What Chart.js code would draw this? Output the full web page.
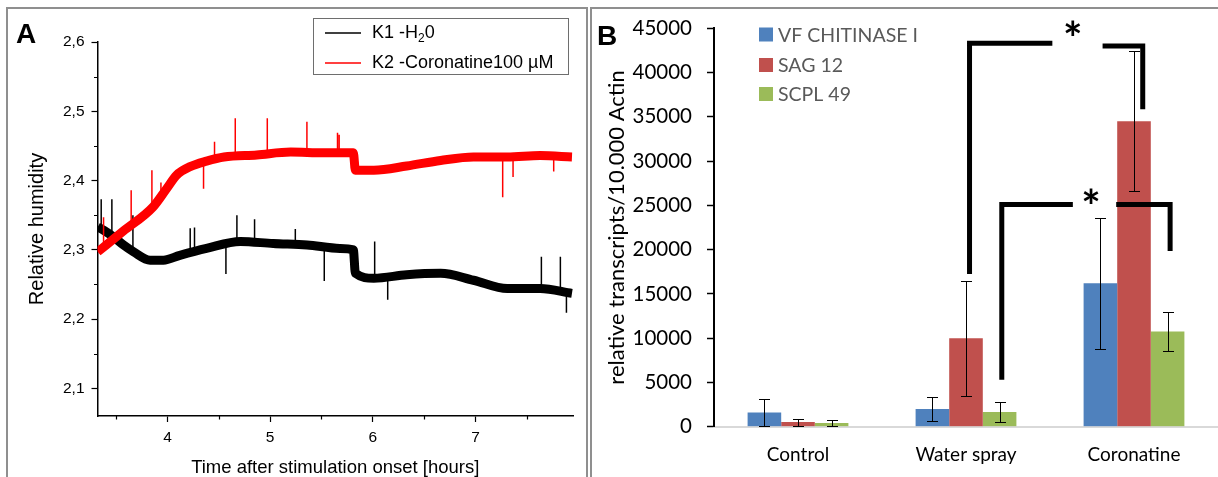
<!DOCTYPE html>
<html><head><meta charset="utf-8">
<script src="https://cdn.jsdelivr.net/npm/chart.js@4.4.1/dist/chart.umd.min.js"></script>
<style>
html,body{margin:0;padding:0;background:#fff;}
#wrap{position:relative;width:1218px;height:477px;overflow:hidden;background:#fff;}
.panel{position:absolute;border:2px solid #8f8f8f;border-bottom:none;box-sizing:border-box;}
#pA{left:6px;top:7px;width:582px;height:480px;}
#pB{left:590px;top:7px;width:640px;height:480px;}
canvas{position:absolute;top:0;}
#cA{left:0;}
#cB{left:590px;}
</style></head>
<body><div id="wrap">
<div class="panel" id="pA"></div><div class="panel" id="pB"></div>
<canvas id="cA" width="590" height="477"></canvas>
<canvas id="cB" width="628" height="477"></canvas>
</div>
<script>
// ---------- Panel A data (Relative humidity vs time) ----------
const k1Time  = [3.32, 3.38, 3.47, 3.57, 3.67, 3.83, 3.96, 4.12, 4.38, 4.71, 5.03, 5.36, 5.68, 5.81, 5.83, 6.01, 6.33, 6.66, 6.98, 7.31, 7.63, 7.94];
const k1Value = [2.333, 2.328, 2.319, 2.307, 2.297, 2.285, 2.285, 2.292, 2.302, 2.312, 2.309, 2.307, 2.302, 2.300, 2.266, 2.259, 2.264, 2.266, 2.256, 2.244, 2.244, 2.237];
const k2Time  = [3.32, 3.57, 3.86, 3.99, 4.09, 4.22, 4.38, 4.55, 4.87, 5.20, 5.52, 5.81, 5.83, 6.01, 6.33, 6.66, 6.98, 7.31, 7.63, 7.94];
const k2Value = [2.297, 2.327, 2.362, 2.388, 2.408, 2.420, 2.428, 2.434, 2.437, 2.441, 2.440, 2.440, 2.415, 2.415, 2.421, 2.429, 2.434, 2.434, 2.436, 2.434];
const k1SpikeTime = [3.354, 3.458, 3.663, 4.221, 4.263, 4.569, 4.676, 4.848, 5.245, 5.527, 6.018, 6.145, 7.642, 7.827, 7.886];
const k1SpikeBase = [2.330, 2.320, 2.300, 2.295, 2.297, 2.310, 2.312, 2.311, 2.308, 2.305, 2.259, 2.261, 2.244, 2.240, 2.238];
const k1SpikePeak = [2.373, 2.373, 2.350, 2.331, 2.332, 2.265, 2.350, 2.344, 2.330, 2.255, 2.312, 2.228, 2.290, 2.290, 2.209];
const k2SpikeTime = [3.377, 3.646, 3.848, 3.936, 4.351, 4.458, 4.660, 4.972, 5.358, 5.656, 5.672, 7.265, 7.366, 7.762];
const k2SpikeBase = [2.300, 2.333, 2.360, 2.380, 2.427, 2.430, 2.435, 2.437, 2.441, 2.440, 2.440, 2.434, 2.434, 2.436];
const k2SpikePeak = [2.347, 2.386, 2.415, 2.397, 2.388, 2.456, 2.490, 2.490, 2.485, 2.469, 2.466, 2.376, 2.405, 2.413];
const aXTicks = [4, 5, 6, 7];
const aXMinor = [3.5, 4.5, 5.5, 6.5, 7.5];
const aYTicks = [2.1, 2.2, 2.3, 2.4, 2.5, 2.6];
const aYMinor = [2.15, 2.25, 2.35, 2.45, 2.55];
const aLegend = ['K1 -H', 'K2 -Coronatine100 µM'];

// ---------- Panel B data (transcripts) ----------
const categories = ['Control', 'Water spray', 'Coronatine'];
const seriesNames = ['VF CHITINASE I', 'SAG 12', 'SCPL 49'];
const chitinase = [1600, 2000, 16200];
const chitinaseErr = [1500, 1350, 7400];
const sag12 = [520, 10000, 34500];
const sag12Err = [400, 6500, 7900];
const scpl49 = [420, 1650, 10750];
const scpl49Err = [380, 1100, 2200];
const bYTicks = [0, 5000, 10000, 15000, 20000, 25000, 30000, 35000, 40000, 45000];
// significance brackets in (category index, value) units
const bracketLines = [
  [[1.021, 17250], [1.021, 43300], [1.514, 43300]],
  [[1.813, 43000], [2.052, 43000], [2.052, 35850]],
  [[1.213, 5300], [1.213, 25100], [1.636, 25100]],
  [[1.894, 25100], [2.215, 25100], [2.215, 19850]]
];
const starPos = [[1.635, 44860], [1.744, 25900]];

// ================= Panel A =================
const fontA = 'Liberation Sans';
function pts(t, v) { return t.map((x, i) => ({x: x, y: v[i]})); }
function spikes(t, b, p) {
  const out = [];
  t.forEach((x, i) => { out.push({x: x, y: b[i]}, {x: x, y: p[i]}, {x: x, y: null}); });
  return out;
}
const pluginA = {
  id: 'panelA',
  afterDraw(chart) {
    const ctx = chart.ctx, xs = chart.scales.x, ys = chart.scales.y;
    ctx.save();
    ctx.strokeStyle = '#000'; ctx.lineWidth = 1.2;
    ctx.beginPath();
    aXMinor.forEach(v => { const px = Math.round(xs.getPixelForValue(v)) + 0.5; ctx.moveTo(px, ys.bottom); ctx.lineTo(px, ys.bottom + 3.5); });
    aYMinor.forEach(v => { const py = Math.round(ys.getPixelForValue(v)) + 0.5; ctx.moveTo(xs.left, py); ctx.lineTo(xs.left - 3.5, py); });
    ctx.stroke();
    // legend box
    ctx.strokeStyle = '#6e6e6e'; ctx.lineWidth = 1;
    ctx.strokeRect(313.5, 18.5, 255, 56);
    ctx.lineWidth = 1.5;
    ctx.strokeStyle = '#000'; ctx.beginPath(); ctx.moveTo(325, 33); ctx.lineTo(361, 33); ctx.stroke();
    ctx.strokeStyle = '#ff0000'; ctx.beginPath(); ctx.moveTo(325, 63); ctx.lineTo(361, 63); ctx.stroke();
    ctx.fillStyle = '#000'; ctx.textBaseline = 'middle'; ctx.textAlign = 'left';
    ctx.font = '18px "' + fontA + '"';
    ctx.fillText(aLegend[0], 372, 33);
    let w = ctx.measureText(aLegend[0]).width;
    ctx.font = '12px "' + fontA + '"';
    ctx.fillText('2', 372 + w, 39);
    const w2 = ctx.measureText('2').width;
    ctx.font = '18px "' + fontA + '"';
    ctx.fillText('0', 372 + w + w2, 33);
    ctx.fillText(aLegend[1], 372, 63);
    // panel letter
    ctx.font = 'bold 28px "' + fontA + '"';
    ctx.textBaseline = 'alphabetic';
    ctx.fillText('A', 16, 43);
    ctx.restore();
  }
};
new Chart(document.getElementById('cA'), {
  type: 'line',
  data: {
    datasets: [
      {label: 'K2', data: pts(k2Time, k2Value), borderColor: '#ff0000', borderWidth: 9, pointRadius: 0, cubicInterpolationMode: 'monotone', order: 1, borderJoinStyle: 'round'},
      {label: 'K2s', data: spikes(k2SpikeTime, k2SpikeBase, k2SpikePeak), borderColor: '#ff0000', borderWidth: 1.5, pointRadius: 0, spanGaps: false, order: 0},
      {label: 'K1', data: pts(k1Time, k1Value), borderColor: '#000000', borderWidth: 9, pointRadius: 0, cubicInterpolationMode: 'monotone', order: 3, borderJoinStyle: 'round'},
      {label: 'K1s', data: spikes(k1SpikeTime, k1SpikeBase, k1SpikePeak), borderColor: '#000000', borderWidth: 1.5, pointRadius: 0, spanGaps: false, order: 2}
    ]
  },
  options: {
    responsive: false, animation: false,
    layout: {padding: {top: 42, right: 17, left: 0, bottom: 0}},
    plugins: {legend: {display: false}, tooltip: {enabled: false}},
    scales: {
      x: {
        type: 'linear', min: 3.318, max: 7.95,
        afterBuildTicks: s => { s.ticks = aXTicks.map(v => ({value: v})); },
        afterFit: s => { s.height = 61; },
        grid: {drawOnChartArea: false, drawTicks: true, tickLength: 6, color: '#000', tickWidth: 1.2},
        border: {display: true, color: '#000', width: 1.5},
        ticks: {font: {family: fontA, size: 15.5}, color: '#000', padding: 6, maxRotation: 0},
        title: {display: true, text: 'Time after stimulation onset [hours]', font: {family: fontA, size: 18.5, lineHeight: 1}, color: '#000', padding: {top: 4, bottom: 0}}
      },
      y: {
        type: 'linear', min: 2.06, max: 2.6,
        afterBuildTicks: s => { s.ticks = aYTicks.map(v => ({value: v})); },
        afterFit: s => { s.width = 97.5; },
        grid: {drawOnChartArea: false, drawTicks: true, tickLength: 6, color: '#000', tickWidth: 1.2},
        border: {display: true, color: '#000', width: 1.5},
        ticks: {font: {family: fontA, size: 15.5}, color: '#000', padding: 7, callback: v => v.toFixed(1).replace('.', ',')},
        title: {display: true, text: 'Relative humidity', font: {family: fontA, size: 20, lineHeight: 1.2}, color: '#000', padding: {top: 25, bottom: 0}}
      }
    }
  },
  plugins: [pluginA]
});

// ================= Panel B =================
const fontB = 'Lato';
const colorsB = ['#4F81BD', '#C0504D', '#9BBB59'];
const errsB = [chitinaseErr, sag12Err, scpl49Err];
const pluginB = {
  id: 'panelB',
  afterDatasetsDraw(chart) {
    const ctx = chart.ctx, xs = chart.scales.x, ys = chart.scales.y;
    ctx.save();
    // error bars
    ctx.strokeStyle = '#000'; ctx.lineWidth = 1;
    chart.data.datasets.forEach((ds, di) => {
      const meta = chart.getDatasetMeta(di);
      meta.data.forEach((bar, i) => {
        const v = ds.data[i], e = errsB[di][i];
        const x = Math.round(bar.x) + 0.5;
        const yt = Math.round(ys.getPixelForValue(v + e)) + 0.5;
        const yb = Math.round(ys.getPixelForValue(Math.max(v - e, 0))) + 0.5;
        ctx.beginPath();
        ctx.moveTo(x, yt); ctx.lineTo(x, yb);
        ctx.moveTo(x - 5.5, yt); ctx.lineTo(x + 5.5, yt);
        ctx.moveTo(x - 5.5, yb); ctx.lineTo(x + 5.5, yb);
        ctx.stroke();
      });
    });
    // brackets
    ctx.lineWidth = 5; ctx.lineJoin = 'miter'; ctx.lineCap = 'butt'; ctx.strokeStyle = '#000';
    bracketLines.forEach(line => {
      ctx.beginPath();
      line.forEach((p, k) => {
        const px = xs.getPixelForValue(p[0]), py = ys.getPixelForValue(p[1]);
        if (k === 0) ctx.moveTo(px, py); else ctx.lineTo(px, py);
      });
      ctx.stroke();
    });
    ctx.fillStyle = '#000'; ctx.textAlign = 'center'; ctx.textBaseline = 'middle';
    ctx.font = 'bold 46px "' + fontB + '"';
    starPos.forEach(p => { ctx.fillText('*', xs.getPixelForValue(p[0]), ys.getPixelForValue(p[1]) + 11); });
    // legend
    ctx.textAlign = 'left';
    ctx.font = '19.5px "' + fontB + '"';
    const ly = [34.5, 65, 94];
    seriesNames.forEach((n, i) => {
      ctx.fillStyle = colorsB[i];
      ctx.fillRect(169, ly[i] - 7, 14, 14);
      ctx.fillStyle = '#595959';
      ctx.fillText(n, 188, ly[i] + 1);
    });
    // panel letter
    ctx.fillStyle = '#000';
    ctx.font = 'bold 28px "' + fontA + '"';
    ctx.textBaseline = 'alphabetic';
    ctx.fillText('B', 7, 45);
    ctx.restore();
  }
};
new Chart(document.getElementById('cB'), {
  type: 'bar',
  data: {
    labels: categories,
    datasets: [
      {label: seriesNames[0], data: chitinase, backgroundColor: colorsB[0]},
      {label: seriesNames[1], data: sag12, backgroundColor: colorsB[1]},
      {label: seriesNames[2], data: scpl49, backgroundColor: colorsB[2]}
    ]
  },
  options: {
    responsive: false, animation: false,
    categoryPercentage: 0.6, barPercentage: 1.0,
    layout: {padding: {top: 28.3, right: 0, left: 0, bottom: 0}},
    plugins: {legend: {display: false}, tooltip: {enabled: false}},
    scales: {
      x: {
        afterFit: s => { s.height = 50.3; },
        grid: {drawOnChartArea: false, drawTicks: false},
        border: {display: true, color: '#d9d9d9', width: 2},
        ticks: {font: {family: fontB, size: 19}, color: '#000', padding: 17}
      },
      y: {
        min: 0, max: 45000,
        afterBuildTicks: s => { s.ticks = bYTicks.map(v => ({value: v})); },
        afterFit: s => { s.width = 124; },
        grid: {drawOnChartArea: false, drawTicks: true, tickLength: 7, color: '#000', tickWidth: 1.5},
        border: {display: true, color: '#000', width: 2},
        ticks: {font: {family: fontB, size: 20.5}, color: '#000', padding: 15, callback: v => String(v)},
        title: {display: true, text: 'relative transcripts/10.000 Actin', font: {family: fontB, size: 22, lineHeight: 1.2}, color: '#000', padding: {top: 14, bottom: 0}}
      }
    }
  },
  plugins: [pluginB]
});
</script>
</body></html>
